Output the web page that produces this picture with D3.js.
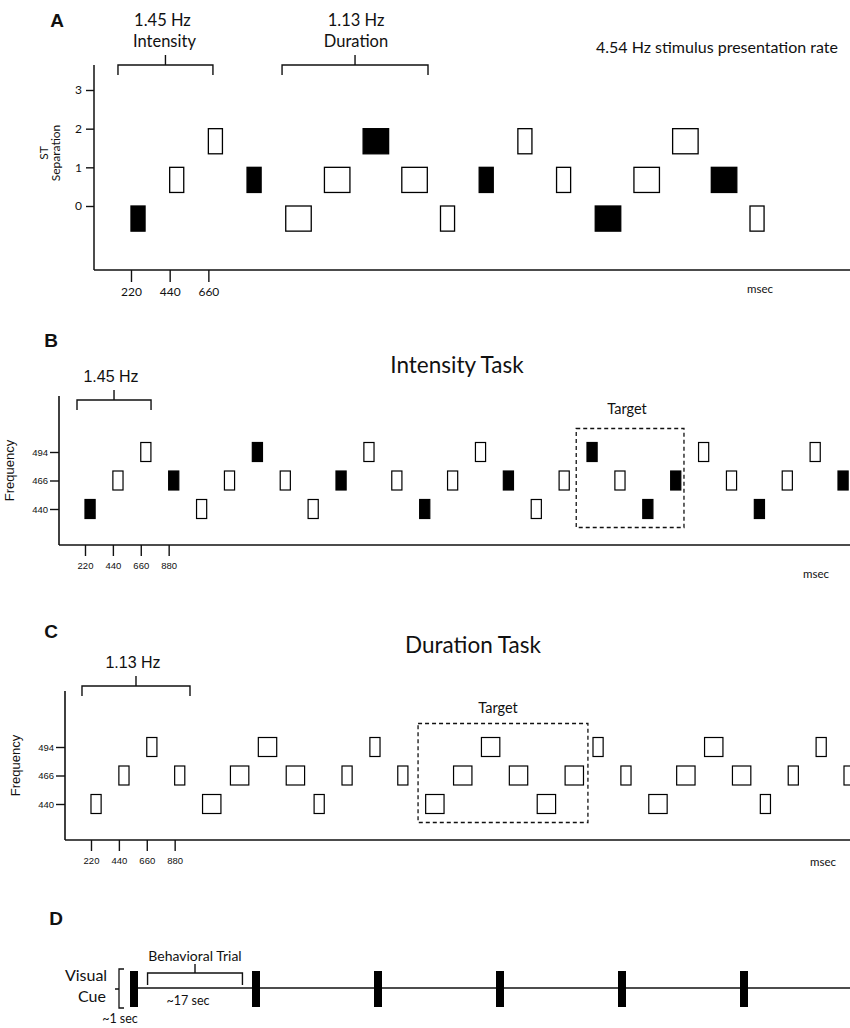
<!DOCTYPE html>
<html><head><meta charset="utf-8">
<script src="https://cdn.jsdelivr.net/npm/d3@7"></script>
<style>body{margin:0;background:#fff}</style>
</head><body><svg id="c" width="850" height="1028"></svg>
<script>
// ---------- DATA ----------
// Panel A: stimulus onsets (ms), semitone separation level, loud (filled), duration (ms)
const aOnset = [220,440,660,880,1100,1320,1540,1760,1980,2200,2420,2640,2860,3080,3300,3520,3740];
const aLevel = [0,1,2,1,0,1,2,1,0,1,2,1,0,1,2,1,0];
const aLoud  = [1,0,0,1,0,0,1,0,0,1,0,0,1,0,0,1,0];
const aDur   = [80,80,80,80,145,145,145,145,80,80,80,80,145,145,145,145,80];
const aYTicks = [0,1,2,3];
const aXTicks = [220,440,660];

// Panel B: Intensity task
const bOnset = [220,440,660,880,1100,1320,1540,1760,1980,2200,2420,2640,2860,3080,3300,3520,3740,3960,4180,4400,4620,4840,5060,5280,5500,5720,5940,6160];
const bFreq  = [440,466,494,466,440,466,494,466,440,466,494,466,440,466,494,466,440,466,494,466,440,466,494,466,440,466,494,466];
const bLoud  = [1,0,0,1,0,0,1,0,0,1,0,0,1,0,0,1,0,0,1,0,1,1,0,0,1,0,0,1];
const bDur   = [80,80,80,80,80,80,80,80,80,80,80,80,80,80,80,80,80,80,80,80,80,80,80,80,80,80,80,80];
const bTarget = [4095, 4945];

// Panel C: Duration task
const cOnset = [220,440,660,880,1100,1320,1540,1760,1980,2200,2420,2640,2860,3080,3300,3520,3740,3960,4180,4400,4620,4840,5060,5280,5500,5720,5940,6160];
const cFreq  = [440,466,494,466,440,466,494,466,440,466,494,466,440,466,494,466,440,466,494,466,440,466,494,466,440,466,494,466];
const cLoud  = [0,0,0,0,0,0,0,0,0,0,0,0,0,0,0,0,0,0,0,0,0,0,0,0,0,0,0,0];
const cDur   = [80,80,80,80,145,145,145,145,80,80,80,80,145,145,145,145,145,145,80,80,145,145,145,145,80,80,80,80];
const cTarget = [2800, 4140];

const freqLevels = [440,466,494];
const bcXTicks = [220,440,660,880];

// Panel D: visual cue onsets (s)
const dCueOnset = [0,18,36,54,72,90];
const dTrial = [2, 16];

// ---------- DRAWING ----------
const svg = d3.select("#c");
svg.append("rect").attr("width",850).attr("height",1028).attr("fill","#fff");
const MY = "Lato, 'Open Sans', sans-serif";
const AR = "'Liberation Sans', Arial, sans-serif";
const INK = "#111";

function text(x, y, s, size, opts={}) {
  const t = svg.append("text").attr("x",x).attr("y",y).text(s)
    .attr("font-size",size).attr("font-family",opts.family||MY)
    .attr("fill",INK).attr("text-anchor",opts.anchor||"middle");
  if (opts.weight) t.attr("font-weight",opts.weight);
  if (opts.rotate) t.attr("transform",`rotate(-90,${x},${y})`);
  return t;
}
function line(x1,y1,x2,y2,w=1.5){
  svg.append("line").attr("x1",x1).attr("y1",y1).attr("x2",x2).attr("y2",y2)
    .attr("stroke",INK).attr("stroke-width",w);
}
function bracket(x1, x2, y, drop, rise) {
  const xm = (x1+x2)/2;
  svg.append("path").attr("d",`M${x1},${y+drop}V${y}H${x2}V${y+drop}M${xm},${y}V${y-rise}`)
    .attr("fill","none").attr("stroke",INK).attr("stroke-width",1.4);
  return xm;
}
function styleAxis(g, size, family){
  g.select(".domain").remove();
  g.selectAll(".tick line").attr("stroke",INK).attr("stroke-width",1.4);
  g.selectAll(".tick text").attr("font-size",size).attr("font-family",family).attr("fill",INK);
}

// ===== Panel A =====
const xA = d3.scaleLinear().domain([0,3740]).range([92.3,750]);
const yA = d3.scaleLinear().domain([0,3]).range([206,90]);
const aH = yA(0) - yA(0.65);
text(57,27,"A",19,{family:AR,weight:"bold"});
line(94,65,94,270); line(94,270,850,270);
const gAy = svg.append("g").attr("transform","translate(94,0)")
  .call(d3.axisLeft(yA).tickValues(aYTicks).tickSize(8).tickPadding(4).tickFormat(d3.format("d")));
styleAxis(gAy,12,MY);
const gAx = svg.append("g").attr("transform","translate(0,270)")
  .call(d3.axisBottom(xA).tickValues(aXTicks).tickSize(12).tickPadding(5).tickFormat(d3.format("d")));
styleAxis(gAx,12,MY);
text(48,153,"ST",12,{rotate:true});
text(60,153,"Separation",12,{rotate:true});
text(760,293,"msec",11.5);
text(596,53,"4.54 Hz stimulus presentation rate",16,{anchor:"start"});
let m = bracket(xA(146), xA(686), 65, 10, 10);
text(m-3,26,"1.45 Hz",16.5); text(m-1,47,"Intensity",16.5);
m = bracket(xA(1079), xA(1909), 65, 10, 10);
text(m+1,26,"1.13 Hz",16.5); text(m+1,47,"Duration",16.5);
svg.append("g").selectAll("rect").data(aOnset).join("rect")
  .attr("x",(d)=>xA(d))
  .attr("y",(d,i)=>yA(aLevel[i]))
  .attr("width",(d,i)=>xA(d+aDur[i])-xA(d))
  .attr("height",aH)
  .attr("fill",(d,i)=>aLoud[i]?"#000":"#fff")
  .attr("stroke","#000").attr("stroke-width",1.3);

// ===== Panels B & C =====
function taskPanel(cfg){
  const {onset,freq,loud,dur,target,x0,x1,yLow,yHigh,axX,axTop,axBot,letterY,title,titleX,titleY,
         hz,brk,brkY,targetX,targetY,msecX,msecY,freqX} = cfg;
  const x = d3.scaleLinear().domain([0,6160]).range([x0,x1]);
  const y = d3.scalePoint().domain(freqLevels).range([yLow,yHigh]);
  const h = 19;
  text(51,letterY,cfg.letter,19,{family:AR,weight:"bold"});
  text(titleX,titleY,title,22.5);
  line(axX,axTop,axX,axBot,1.6); line(axX,axBot,850,axBot,1.6);
  const gy = svg.append("g").attr("transform",`translate(${axX},0)`)
    .call(d3.axisLeft(y).tickSize(9).tickPadding(2));
  styleAxis(gy,9.5,AR);
  const gx = svg.append("g").attr("transform",`translate(0,${axBot})`)
    .call(d3.axisBottom(x).tickValues(bcXTicks).tickSize(11).tickPadding(6).tickFormat(d3.format("d")));
  styleAxis(gx,9.5,AR);
  text(freqX,(yLow+yHigh)/2-10,"Frequency",13,{family:AR,rotate:true});
  text(msecX,msecY,"msec",11.5);
  const bm = bracket(x(brk[0]), x(brk[1]), brkY, 10, 10);
  text(bm-3,brkY-18,hz,16,{family:AR});
  // target box
  svg.append("rect").attr("x",x(target[0])).attr("width",x(target[1])-x(target[0]))
    .attr("y",y(494)-h/2-14).attr("height",(y(440)+h/2+9)-(y(494)-h/2-14))
    .attr("fill","none").attr("stroke",INK).attr("stroke-width",1.3).attr("stroke-dasharray","4,3");
  text(targetX,targetY,"Target",14.5);
  svg.append("g").selectAll("rect").data(onset).join("rect")
    .attr("x",(d)=>x(d))
    .attr("y",(d,i)=>y(freq[i])-h/2)
    .attr("width",(d,i)=>x(d+dur[i])-x(d))
    .attr("height",h)
    .attr("fill",(d,i)=>loud[i]?"#000":"#fff")
    .attr("stroke","#000").attr("stroke-width",1.2);
}
taskPanel({letter:"B",onset:bOnset,freq:bFreq,loud:bLoud,dur:bDur,target:bTarget,
  x0:57.1,x1:838,yLow:509,yHigh:452,axX:59,axTop:396,axBot:545,letterY:347,
  title:"Intensity Task",titleX:457,titleY:373,hz:"1.45 Hz",brk:[157,741],brkY:400,
  targetX:627,targetY:414,msecX:816,msecY:578,freqX:14});
taskPanel({letter:"C",onset:cOnset,freq:cFreq,loud:cLoud,dur:cDur,target:cTarget,
  x0:63.1,x1:844,yLow:804,yHigh:747,axX:65,axTop:691,axBot:840,letterY:638,
  title:"Duration Task",titleX:473,titleY:653,hz:"1.13 Hz",brk:[149,1001],brkY:686,
  targetX:498,targetY:713,msecX:823,msecY:866,freqX:20});

// ===== Panel D =====
const xD = d3.scaleLinear().domain([0,90]).range([134,744]);
text(56,925,"D",19,{family:AR,weight:"bold"});
line(xD(0),988,850,988,1.5);
svg.append("g").selectAll("rect").data(dCueOnset).join("rect")
  .attr("x",d=>xD(d)-4).attr("y",971).attr("width",8).attr("height",36).attr("fill","#000");
svg.append("path").attr("d","M124,969H119V1008H124M119,989H115")
  .attr("fill","none").attr("stroke",INK).attr("stroke-width",1.3);
text(86,981,"Visual",16);
text(92,1002,"Cue",16);
const dm = bracket(xD(dTrial[0]), xD(dTrial[1]), 973, 12, 9);
text(dm,961,"Behavioral Trial",14);
text(188,1005,"~17 sec",12.5);
text(120,1023,"~1 sec",12.5);
</script></body></html>
